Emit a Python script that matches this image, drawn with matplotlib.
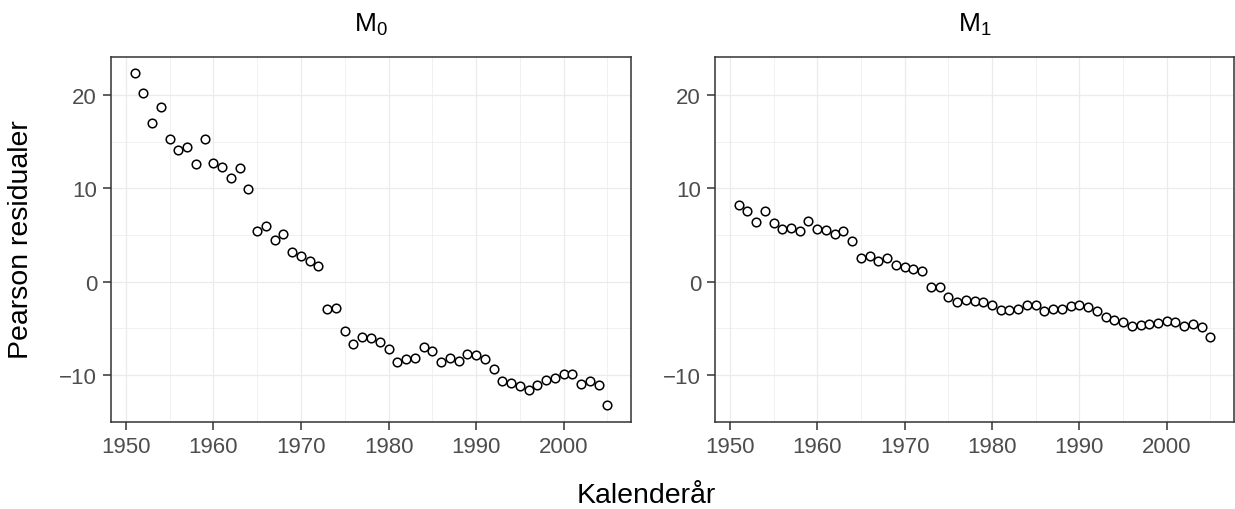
import numpy as np
import matplotlib.pyplot as plt
from matplotlib.ticker import MultipleLocator

plt.rcParams['font.family'] = ['Liberation Sans', 'DejaVu Sans']

years = np.arange(1951, 2006)

# Pearson residuals per calendar year, model M0
res_m0 = [22.3, 20.2, 17.0, 18.7, 15.3, 14.1, 14.4, 12.6, 15.3, 12.7,
          12.25, 11.1, 12.2, 9.9, 5.4, 6.0, 4.5, 5.1, 3.2, 2.8,
          2.2, 1.7, -2.9, -2.86, -5.32, -6.68, -5.89, -6.07, -6.46, -7.17,
          -8.57, -8.25, -8.14, -7.03, -7.39, -8.6, -8.14, -8.5, -7.68, -7.82,
          -8.25, -9.36, -10.6, -10.8, -11.2, -11.56, -11.03, -10.5, -10.32, -9.89,
          -9.89, -10.96, -10.6, -11.07, -13.2]

# Pearson residuals per calendar year, model M1
res_m1 = [8.19, 7.62, 6.34, 7.62, 6.23, 5.66, 5.76, 5.44, 6.55, 5.66,
          5.55, 5.06, 5.41, 4.31, 2.53, 2.77, 2.18, 2.5, 1.8, 1.62,
          1.38, 1.12, -0.58, -0.6, -1.67, -2.2, -1.99, -2.07, -2.2, -2.52,
          -3.05, -2.99, -2.9, -2.45, -2.45, -3.1, -2.9, -2.9, -2.62, -2.49,
          -2.7, -3.13, -3.74, -4.1, -4.34, -4.73, -4.63, -4.49, -4.45, -4.23,
          -4.27, -4.73, -4.5, -4.82, -5.86]

titles = [r'$\mathregular{M_0}$', r'$\mathregular{M_1}$']

# shared limits with 5% padding on each side
xr = years.max() - years.min()
xlim = (years.min() - 0.05 * xr, years.max() + 0.05 * xr)
ymin = min(min(res_m0), min(res_m1))
ymax = max(max(res_m0), max(res_m1))
yr = ymax - ymin
ylim = (ymin - 0.05 * yr, ymax + 0.05 * yr)

fig = plt.figure(figsize=(12.35, 5.1), dpi=100)
W, H = 1235, 510
ax0 = fig.add_axes([111 / W, 1 - 422.7 / H, 520 / W, 365 / H])
ax1 = fig.add_axes([715 / W, 1 - 422.7 / H, 519 / W, 365 / H])

for ax, res, title in zip([ax0, ax1], [res_m0, res_m1], titles):
    ax.set_axisbelow(True)
    ax.plot(years, res, 'o', ms=6.2, mfc='white', mec='black', mew=1.1, zorder=3)
    ax.set_xlim(xlim)
    ax.set_ylim(ylim)
    ax.xaxis.set_major_locator(MultipleLocator(10))
    ax.xaxis.set_minor_locator(MultipleLocator(5))
    ax.yaxis.set_major_locator(MultipleLocator(10))
    ax.yaxis.set_minor_locator(MultipleLocator(5))
    ax.grid(which='major', color='#EBEBEB', lw=0.9)
    ax.grid(which='minor', color='#EBEBEB', lw=0.5)
    for s in ax.spines.values():
        s.set_color('#333333')
        s.set_linewidth(1.1)
    ax.tick_params(which='major', length=5.5, width=1.1, color='#333333',
                   labelcolor='#4D4D4D', labelsize=16, pad=4.5)
    ax.tick_params(which='minor', length=0)
    ax.set_title(title, fontsize=19, pad=19)

fig.text(21 / W, 1 - 240 / H, 'Pearson residualer', rotation=90,
         ha='center', va='center', fontsize=20.5)
fig.text(646 / W, 1 - 503 / H, 'Kalenderår', ha='center', va='baseline',
         fontsize=20.5)

fig.savefig('out.png', dpi=100)
